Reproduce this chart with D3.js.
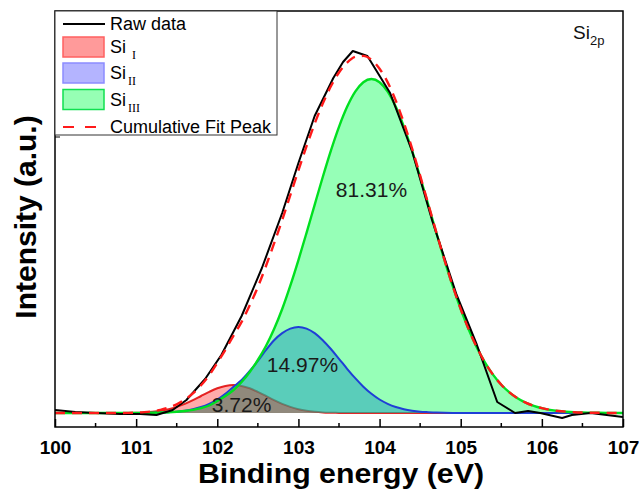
<!DOCTYPE html>
<html><head><meta charset="utf-8">
<script src="https://cdn.jsdelivr.net/npm/d3@7"></script>
<style>
body{margin:0;background:#fff}
svg{display:block}
text{font-family:"Liberation Sans",Arial,sans-serif}
</style>
</head><body>
<svg id="c" width="640" height="489"></svg>
<script>
// ---------- data ----------
const energy = d3.range(0, 71).map(i => +(100 + i * 0.1).toFixed(1)); // 100.0 .. 107.0 eV grid

const siI = [0,0,0,0,0,0,0,0,0,
  0.1,0.3,0.6,1.2,2.2,3.8,6.1,9.1,12.8,17.0,21.1,24.7,27.1,28.0,27.1,24.7,21.1,17.0,12.8,9.1,6.1,3.8,2.2,1.2,0.6,0.3,0.1,
  0,0,0,0,0,0,0,0,0,0,0,0,0,0,0,0,0,0,0,0,0,0,0,0,0,0,0,0,0,0,0,0,0,0,0];

const siII = [0,0,0,0,0,0,0,0,0,0,0,
  0.1,0.2,0.4,0.8,1.3,2.3,3.8,6.0,9.2,13.5,19.2,26.3,33,42,52,63,72.8,79.9,84.4,86,84.4,79.9,72.8,64.0,54.2,44.2,34.8,26.3,19.2,13.5,9.2,6.0,3.8,2.3,1.3,0.8,0.4,0.2,0.1,
  0,0,0,0,0,0,0,0,0,0,0,0,0,0,0,0,0,0,0,0,0];

const siIII = [0,0,0,0,0,0,0,0,0,0,
  0.1,0.2,0.3,0.5,0.8,1.3,2.0,3.1,4.8,7.5,12,17,23,31,41,53,67,84,104.0,127.3,152.9,180.2,208.2,236.0,262.4,286.2,306.2,321.4,330.8,334,
  330.8,321.4,306.2,286.2,262.4,236.0,208.2,180.2,152.9,127.3,104.0,83.3,65.4,50.4,38.1,28.3,20.6,14.7,10.3,7.1,4.8,3.1,2.0,1.3,0.8,0.5,0.3,0.2,0.1,
  0,0];

const rawEnergy = [100.0,100.25,100.5,100.8,101.05,101.25,101.45,101.62,101.85,102.05,102.3,102.55,102.8,103.0,103.2,103.43,103.55,103.67,103.85,104.13,104.4,104.65,104.95,105.2,105.45,105.67,105.83,105.98,106.25,106.37,106.6,107.0];
const rawIntensity = [3,1,0,-1,-1,-2,3,13,34,58,97,145,200,250,297,335,351,362,357,320,262,192,118,68,11,0,2,0,-5,-2,0,-4];

const xTickValues = [100,101,102,103,104,105,106,107];
const xTickLabels = ["100","101","102","103","104","105","106","107"];
const peakPercents = ["3.72%","14.97%","81.31%"];
const legendLabels = ["Raw data","Si","Si","Si","Cumulative Fit Peak"];
const legendSubs = ["", "I", "II", "III", ""];

// ---------- layout ----------
const L = 55, R = 623, T = 11, B = 427;
const svg = d3.select("#c");
const x = d3.scaleLinear().domain([100, 107]).range([L, R]);
const y = d3.scaleLinear().domain([-14, 402]).range([B, T]);

const cumulative = energy.map((e, i) => siI[i] + siII[i] + siIII[i]);
const pts = arr => energy.map((e, i) => [e, arr[i]]);

const area = d3.area().x(d => x(d[0])).y0(y(0)).y1(d => y(d[1])).curve(d3.curveMonotoneX);
const line = d3.line().x(d => x(d[0])).y(d => y(d[1])).curve(d3.curveMonotoneX);

svg.append("clipPath").attr("id","pc").append("rect")
  .attr("x", L).attr("y", T).attr("width", R - L).attr("height", B - T);
const g = svg.append("g").attr("clip-path","url(#pc)");

// red component line underneath
g.append("path").attr("d", line(pts(siI))).attr("fill","none").attr("stroke","#e02828").attr("stroke-width",2);
// fills
g.append("path").attr("d", area(pts(siIII))).attr("fill","rgb(0,255,80)").attr("fill-opacity",0.41);
g.append("path").attr("d", area(pts(siII))).attr("fill","rgb(30,155,190)").attr("fill-opacity",0.5);
g.append("path").attr("d", area(pts(siI))).attr("fill","rgb(255,0,0)").attr("fill-opacity",0.33);
// component outlines
g.append("path").attr("d", line(pts(siII))).attr("fill","none").attr("stroke","#1f3fd6").attr("stroke-width",2);
g.append("path").attr("d", line(pts(siIII))).attr("fill","none").attr("stroke","#00e020").attr("stroke-width",2.4);
// raw data
g.append("path").attr("d", d3.line().x(d => x(d[0])).y(d => y(d[1]))(rawEnergy.map((e,i)=>[e, rawIntensity[i]])))
  .attr("fill","none").attr("stroke","#000").attr("stroke-width",2).attr("stroke-linejoin","round");
// cumulative fit
g.append("path").attr("d", line(pts(cumulative))).attr("fill","none").attr("stroke","#ff1a1a")
  .attr("stroke-width",2.4).attr("stroke-dasharray","10,7");

// percent labels
const lab = [[102.3, 1], [103.05, 41], [103.9, 216]];
peakPercents.forEach((t, i) => {
  svg.append("text").attr("x", x(lab[i][0])).attr("y", y(lab[i][1]))
    .attr("text-anchor","middle").attr("font-size",21).attr("fill","#1a1a1a").text(t);
});

// frame
svg.append("rect").attr("x", L).attr("y", T).attr("width", R - L).attr("height", B - T)
  .attr("fill","none").attr("stroke","#000").attr("stroke-width",1.5);

// x ticks (inward)
const xAxis = d3.axisBottom(x).tickValues(xTickValues).tickFormat((d,i) => xTickLabels[i]).tickSizeInner(-8).tickSizeOuter(0).tickPadding(14);
const ax = svg.append("g").attr("transform", `translate(0,${B})`).call(xAxis);
ax.select(".domain").remove();
ax.selectAll(".tick line").attr("stroke","#000").attr("stroke-width",1.5);
ax.selectAll(".tick text").attr("font-size",19).attr("font-weight","bold").attr("fill","#000")
  .attr("font-family",'"Liberation Sans",Arial,sans-serif');
const minor = d3.range(100.5, 107, 1);
svg.append("g").selectAll("line").data(minor).join("line")
  .attr("x1", d => x(d)).attr("x2", d => x(d)).attr("y1", B).attr("y2", B - 4)
  .attr("stroke","#000").attr("stroke-width",1.5);
// single y tick
svg.append("line").attr("x1", L).attr("x2", L + 5).attr("y1", 137).attr("y2", 137).attr("stroke","#000").attr("stroke-width",1);

// axis titles
svg.append("text").attr("x", (L + R) / 2 + 2).attr("y", 483).attr("text-anchor","middle")
  .attr("font-size",27).attr("font-weight","bold")
  .attr("textLength",286).attr("lengthAdjust","spacingAndGlyphs").text("Binding energy (eV)");
svg.append("text").attr("transform","translate(36,217) rotate(-90)").attr("text-anchor","middle")
  .attr("font-size",30).attr("font-weight","bold").text("Intensity (a.u.)");

// Si2p label
const s2 = svg.append("text").attr("x", 573).attr("y", 39).attr("font-size",19).attr("fill","#111");
s2.append("tspan").text("Si");
s2.append("tspan").attr("dy",6).attr("font-size",13).text("2p");

// legend
svg.append("rect").attr("x", L).attr("y", T).attr("width", 222).attr("height", 124)
  .attr("fill","#fff").attr("stroke","#333").attr("stroke-width",1);
const rowsY = [24, 47, 73, 99.5, 127];
svg.append("line").attr("x1",63).attr("x2",105).attr("y1",rowsY[0]).attr("y2",rowsY[0]).attr("stroke","#000").attr("stroke-width",2);
const sw = [["#ff9a9a","#ff6060"],["#b4b4ff","#8c8cff"],["#96ffb4","#10e050"]];
sw.forEach((c, i) => {
  svg.append("rect").attr("x",63).attr("y",rowsY[i+1]-10).attr("width",41).attr("height",20)
    .attr("fill",c[0]).attr("stroke",c[1]).attr("stroke-width",1.5);
});
svg.append("line").attr("x1",63).attr("x2",105).attr("y1",rowsY[4]).attr("y2",rowsY[4]).attr("stroke","#ff1a1a")
  .attr("stroke-width",2).attr("stroke-dasharray","11,11");
legendLabels.forEach((t, i) => {
  const tx = svg.append("text").attr("x",110).attr("y",rowsY[i]+6).attr("font-size",18).attr("fill","#000");
  tx.append("tspan").text(t);
  if (legendSubs[i]) {
    tx.append("tspan").attr("x", i === 1 ? 132 : 128).attr("dy",6).attr("font-size",12)
      .attr("font-family",'"Liberation Serif","Times New Roman",serif').text(legendSubs[i]);
  }
});
</script>
</body></html>
